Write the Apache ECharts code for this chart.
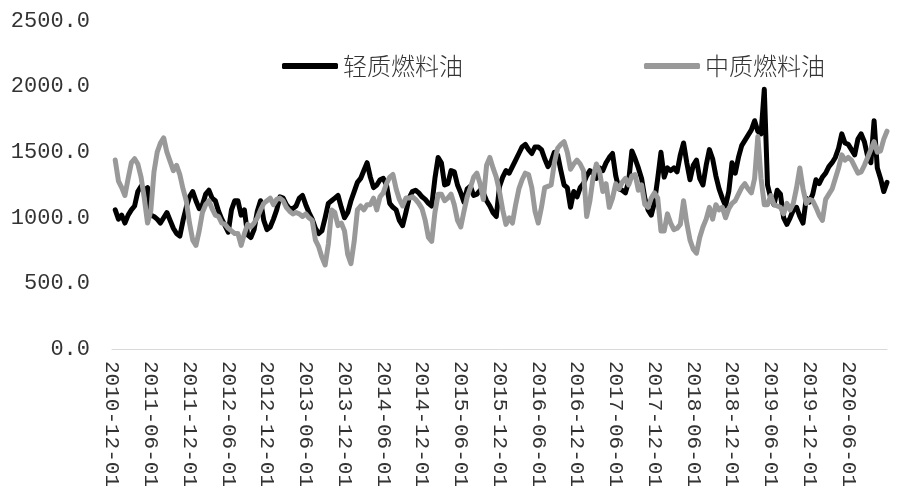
<!DOCTYPE html>
<html><head><meta charset="utf-8">
<script src="https://cdn.jsdelivr.net/npm/echarts@6/dist/echarts.min.js"></script>
<style>html,body{margin:0;padding:0;background:#fff}#c{width:900px;height:498px}</style>
</head><body><div id="c"></div>
<script>
// x positions are months since 2010-12-01, one value every half month
const startMonth = 0.5;
const stepMonth = 0.5;
const seriesNames = ['轻质燃料油', '中质燃料油'];
const xTickLabels = ['2010-12-01','2011-06-01','2011-12-01','2012-06-01','2012-12-01','2013-06-01','2013-12-01','2014-06-01','2014-12-01','2015-06-01','2015-12-01','2016-06-01','2016-12-01','2017-06-01','2017-12-01','2018-06-01','2018-12-01','2019-06-01','2019-12-01','2020-06-01'];
const lightOil = [
1060,990,1020,960,1020,1060,1090,1200,1240,1210,1230,1020,
1010,990,960,1000,1040,980,920,880,860,980,1080,1160,
1200,1130,1070,1100,1180,1210,1150,1130,1050,990,940,890,
1060,1130,1130,1020,1060,870,850,910,1050,1130,980,910,
930,990,1060,1160,1150,1100,1070,1070,1090,1150,1170,1100,
1040,990,920,880,900,1000,1110,1130,1150,1170,1080,1000,
1040,1130,1200,1270,1300,1360,1420,1310,1230,1250,1290,1300,
1250,1110,1080,1060,980,940,1040,1150,1200,1210,1190,1160,
1140,1110,1090,1300,1460,1420,1250,1260,1360,1350,1250,1190,
1120,1220,1240,1170,1180,1210,1190,1130,1090,1040,1010,1240,
1310,1360,1340,1390,1440,1490,1540,1560,1520,1490,1540,1540,
1520,1450,1390,1430,1500,1480,1360,1250,1230,1080,1200,1160,
1230,1260,1320,1360,1340,1300,1380,1360,1420,1460,1490,1320,
1220,1210,1190,1280,1510,1450,1380,1300,1150,1060,1020,1120,
1300,1500,1310,1380,1360,1380,1350,1480,1570,1420,1290,1400,
1440,1300,1250,1400,1520,1450,1320,1220,1150,1090,1200,1420,
1340,1460,1550,1590,1630,1670,1740,1660,1640,1980,1250,1150,
1100,1210,1180,1000,950,1000,1060,1080,1010,960,1150,1120,
1180,1290,1260,1310,1340,1390,1420,1460,1530,1640,1570,1560,
1520,1480,1600,1640,1580,1470,1420,1740,1380,1300,1200,1270
];
const mediumOil = [
1440,1280,1230,1170,1300,1420,1450,1410,1310,1150,960,1050,
1350,1500,1570,1610,1500,1430,1360,1400,1330,1220,1130,960,
830,790,900,1040,1100,1130,1070,1020,1010,960,950,920,
900,880,880,790,880,950,930,960,1000,1060,1110,1130,
1150,1100,1140,1150,1130,1080,1050,1030,1040,1030,1010,1030,
1000,980,830,780,700,640,800,1060,1040,940,960,900,
720,650,820,1060,1090,1060,1100,1100,1150,1060,1160,1190,
1260,1310,1330,1220,1140,1090,1150,1150,1160,1140,1110,1070,
980,850,820,1040,1180,1180,1130,1150,1180,1100,980,930,
1050,1160,1230,1310,1340,1260,1140,1400,1460,1380,1310,1200,
1060,950,1000,960,1100,1220,1290,1340,1330,1230,1050,960,
1080,1230,1240,1250,1420,1530,1560,1580,1500,1370,1410,1440,
1410,1360,1010,1130,1310,1410,1350,1200,1260,1080,1150,1260,
1220,1270,1300,1250,1320,1330,1210,1250,1100,1080,1150,1190,
1150,900,900,1030,960,910,920,950,1130,960,830,760,
730,850,930,990,1080,990,1100,1060,1080,1000,1070,1110,
1130,1180,1230,1260,1220,1190,1300,1620,1300,1100,1100,1170,
1100,1090,1080,1030,1110,1060,1110,1230,1380,1220,1110,1140,
1130,1080,1020,980,1140,1180,1220,1300,1380,1480,1440,1460,
1440,1390,1340,1350,1400,1460,1520,1580,1500,1510,1600,1660
];
const toPoints = arr => arr.map((v, i) => [startMonth + i * stepMonth, v]);

const chart = echarts.init(document.getElementById('c'), null, {renderer: 'canvas'});
const legendText = {fontFamily: 'Noto Sans CJK SC', fontWeight: 300, fontSize: 24, color: '#333'};
chart.setOption({
  animation: false,
  backgroundColor: '#fff',
  grid: {left: 112, right: 13, top: 21, bottom: 149, containLabel: false},
  legend: [
    {data: [seriesNames[0]], left: 277, top: 49, icon: 'roundRect', itemWidth: 56, itemHeight: 6, itemGap: 0, textStyle: legendText},
    {data: [seriesNames[1]], left: 639, top: 49, icon: 'roundRect', itemWidth: 56, itemHeight: 6, itemGap: 0, textStyle: legendText}
  ],
  xAxis: {
    type: 'value', min: 0, max: 120, interval: 6,
    axisLine: {show: true, lineStyle: {color: '#d9d9d9', width: 1}},
    axisTick: {show: false},
    splitLine: {show: false},
    axisLabel: {
      rotate: -90, margin: 12, showMaxLabel: false,
      fontFamily: 'Liberation Mono', fontSize: 21, color: '#333',
      formatter: v => xTickLabels[Math.round(v / 6)] || ''
    }
  },
  yAxis: {
    type: 'value', min: 0, max: 2500, interval: 500,
    axisLine: {show: false}, axisTick: {show: false}, splitLine: {show: false},
    axisLabel: {margin: 22, fontFamily: 'Liberation Mono', fontSize: 22, color: '#333',
      formatter: v => v.toFixed(1)}
  },
  series: [
    {name: seriesNames[0], type: 'line', data: toPoints(lightOil), showSymbol: false, symbol: 'none',
      lineStyle: {color: '#000', width: 5, join: 'round', cap: 'round'}, itemStyle: {color: '#000'}},
    {name: seriesNames[1], type: 'line', data: toPoints(mediumOil), showSymbol: false, symbol: 'none',
      lineStyle: {color: '#999999', width: 5, join: 'round', cap: 'round'}, itemStyle: {color: '#999999'}}
  ]
});
</script></body></html>
